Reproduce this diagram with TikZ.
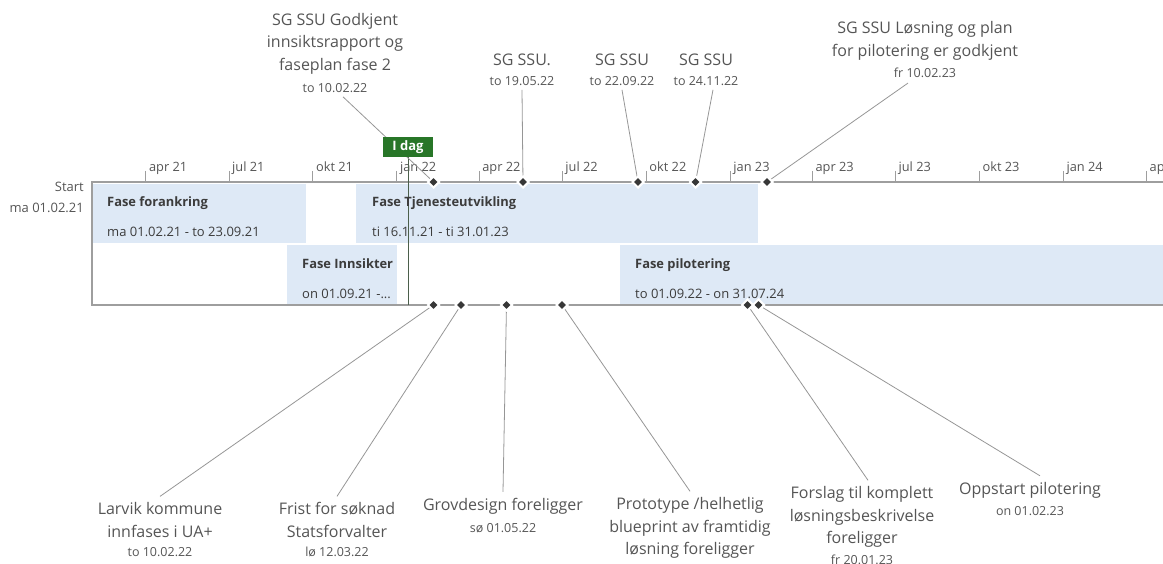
\documentclass[tikz,border=0pt]{standalone}
\usepackage{fontspec}
\setmainfont{Open Sans}
\usetikzlibrary{shapes.geometric,calc}
\definecolor{txt}{RGB}{85,85,85}
\definecolor{boxtxt}{RGB}{60,60,60}
\definecolor{rowfill}{RGB}{222,233,246}
\definecolor{axisc}{RGB}{158,158,158}
\definecolor{leadc}{RGB}{150,150,150}
\definecolor{diac}{RGB}{55,55,55}
\definecolor{todayc}{RGB}{40,118,40}
\definecolor{todayline}{RGB}{75,95,75}
\pgfdeclarelayer{back}\pgfdeclarelayer{mid}\pgfsetlayers{back,mid,main}
\tikzset{
 ttl/.style={font=\fontsize{16}{22.5}\selectfont, text=txt, align=center, inner sep=1pt},
 dte/.style={font=\fontsize{12.5}{14}\selectfont, text=txt, inner sep=1pt},
 mon/.style={font=\fontsize{12.8}{14}\selectfont, text=txt, anchor=base west, inner sep=0pt},
 phfill/.style={fill=rowfill},
 phtitle/.style={font=\fontsize{12.9}{15}\selectfont\bfseries, text=boxtxt, anchor=base west, inner sep=0pt},
 phdate/.style={font=\fontsize{13}{15}\selectfont, text=boxtxt, anchor=base west, inner sep=0pt},
 ms/.style={diamond, fill=diac, draw=white, line width=2pt, inner sep=0pt, minimum width=12pt, minimum height=12pt},
 leader/.style={draw=leadc, line width=0.8pt},
 axisline/.style={draw=axisc, line width=1.8pt},
 tickline/.style={draw=axisc, line width=1pt},
 startlbl/.style={font=\fontsize{13}{15}\selectfont, text=txt, anchor=base east, inner sep=0pt},
}
\begin{document}
\begin{tikzpicture}[x=1pt,y=-1pt]
\path[use as bounding box] (0,0) rectangle (1163,564);

% phase fills
\begin{pgfonlayer}{back}
\fill[phfill] (92,184) rectangle (306,243);
\fill[phfill] (356,184) rectangle (758,243);
\fill[phfill] (287,245) rectangle (397,304);
\fill[phfill] (620,245) rectangle (1163,304);
\end{pgfonlayer}

% phase texts
\node[phtitle] (p1t) at (107,207) {Fase forankring};
\node[phdate]  (p1d) at (107,237) {ma 01.02.21 - to 23.09.21};
\node[phtitle] (p2t) at (372,207) {Fase Tjenesteutvikling};
\node[phdate]  (p2d) at (372,237) {ti 16.11.21 - ti 31.01.23};
\node[phtitle] (p3t) at (302,269) {Fase Innsikter};
\node[phdate]  (p3d) at (302,299) {on 01.09.21 -...};
\node[phtitle] (p4t) at (635,269) {Fase pilotering};
\node[phdate]  (p4d) at (635,299) {to 01.09.22 - on 31.07.24};

% axis frame
\begin{pgfonlayer}{mid}
\coordinate (tl) at (92,182);
\coordinate (tr) at (1163,182);
\coordinate (bl) at (92,305);
\coordinate (br) at (1163,305);
\draw[axisline] (tr) -- (tl) -- (bl) -- (br);
\foreach \x/\l [count=\i] in {145.9/apr 21,229/jul 21,312.9/okt 21,396.9/jan 22,479.1/apr 22,562.2/jul 22,646.2/okt 22,730.2/jan 23,812.4/apr 23,895.4/jul 23,979.4/okt 23,1063.4/jan 24,1146.5/apr 24}{
  \draw[tickline] (\x,171) -- (\x,182);
  \node[mon] (tk\i) at (\x+3,172) {\l};
}
\end{pgfonlayer}

\node[startlbl] (st1) at (84,192) {Start};
\node[startlbl] (st2) at (84,213) {ma 01.02.21};

% today marker
\node[fill=todayc, text=white, font=\fontsize{13}{15}\selectfont\bfseries, minimum width=50pt, minimum height=20pt, inner sep=0pt] (idag) at (408,147) {I dag};
\coordinate (idagend) at (408,305);
\begin{pgfonlayer}{mid}
\draw[todayline, line width=0.9pt] (idag.south) -- (idagend);
\end{pgfonlayer}

% top labels
\node[ttl] (m1t) at (335,43.5) {SG SSU Godkjent\\innsiktsrapport og\\faseplan fase 2};
\node[dte] (m1d) at (335,88) {to 10.02.22};
\node[ttl] (m2t) at (522,60) {SG SSU.};
\node[dte] (m2d) at (522,81) {to 19.05.22};
\node[ttl] (m3t) at (622,60) {SG SSU};
\node[dte] (m3d) at (622,81) {to 22.09.22};
\node[ttl] (m4t) at (706,60) {SG SSU};
\node[dte] (m4d) at (706,81) {to 24.11.22};
\node[ttl] (m5t) at (925,41) {SG SSU Løsning og plan\\for pilotering er godkjent};
\node[dte] (m5d) at (925,73) {fr 10.02.23};

% bottom labels
\node[ttl] (b1t) at (160,520) {Larvik kommune\\innfases i UA+};
\node[dte] (b1d) at (160,552) {to 10.02.22};
\node[ttl] (b2t) at (337,520) {Frist for søknad\\Statsforvalter};
\node[dte] (b2d) at (337,552) {lø 12.03.22};
\node[ttl] (b3t) at (503,506) {Grovdesign foreligger};
\node[dte] (b3d) at (503,528) {sø 01.05.22};
\node[ttl] (b4t) at (690,528) {Prototype /helhetlig\\blueprint av framtidig\\løsning foreligger};
\node[ttl] (b5t) at (862,517) {Forslag til komplett\\løsningsbeskrivelse\\foreligger};
\node[dte] (b5d) at (862,560) {fr 20.01.23};
\node[ttl] (b6t) at (1030,490) {Oppstart pilotering};
\node[dte] (b6d) at (1030,511) {on 01.02.23};

% milestone diamonds
\node[ms] (d1) at (433.5,182) {};
\node[ms] (d2) at (523,182) {};
\node[ms] (d3) at (638,182) {};
\node[ms] (d4) at (695.5,182) {};
\node[ms] (d5) at (767,182) {};
\node[ms] (e1) at (433.5,305) {};
\node[ms] (e2) at (461,305) {};
\node[ms] (e3) at (506.5,305) {};
\node[ms] (e4) at (562,305) {};
\node[ms] (e6) at (758.5,305) {};
\node[ms] (e5) at (747.5,305) {};

% leaders
\begin{pgfonlayer}{mid}
\draw[leader] ([xshift=8pt,yshift=-3pt]m1d.south) -- (d1.center);
\draw[leader] ([yshift=-3pt]m2d.south) -- (d2.center);
\draw[leader] ([yshift=-3pt]m3d.south) -- (d3.center);
\draw[leader] ([xshift=7pt,yshift=-3pt]m4d.south) -- (d4.center);
\draw[leader] ([xshift=-17pt,yshift=-4pt]m5d.south) -- (d5.center);
\draw[leader] (e1.center) -- ([yshift=5pt]b1t.north);
\draw[leader] (e2.center) -- ([yshift=5pt]b2t.north);
\draw[leader] (e3.center) -- ([yshift=5pt]b3t.north);
\draw[leader] (e4.center) -- ([xshift=0pt,yshift=5pt]b4t.north);
\draw[leader] (e5.center) -- ([xshift=6pt,yshift=5pt]b5t.north);
\draw[leader] (e6.center) -- ([xshift=10pt,yshift=5pt]b6t.north);
\end{pgfonlayer}
\end{tikzpicture}
\end{document}
